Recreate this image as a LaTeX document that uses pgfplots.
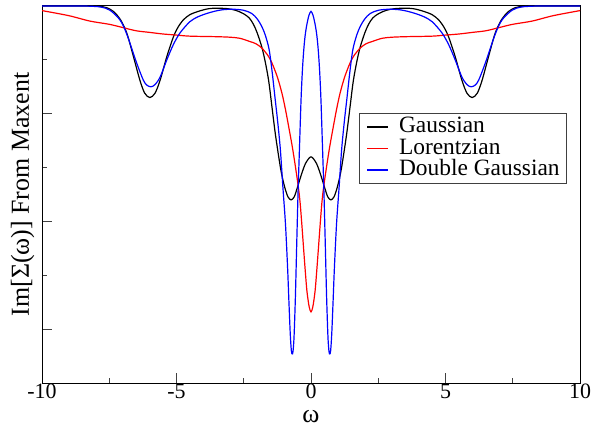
\documentclass[border=0pt]{standalone}
\usepackage{fontspec}
\setmainfont{Liberation Serif}
\usepackage{pgfplots}
\pgfplotsset{compat=1.18}
\begin{document}
\begin{tikzpicture}
\path[use as bounding box] (-42bp,-44bp) rectangle (555bp,383bp);
\begin{axis}[
  scale only axis, width=538bp, height=377bp,
  at={(0,0)}, anchor=south west,
  xmin=-10, xmax=10, ymin=-3.5, ymax=0,
  xtick={-10,-5,0,5,10}, xticklabels={-10,-5,0,5,10},
  minor x tick num=1,
  ytick={-3,-2,-1}, yticklabels={},
  minor ytick={-3.5,-2.5,-1.5,-0.5},
  xtick pos=bottom, ytick pos=left,
  tick align=inside,
  major tick length=10bp, minor tick length=5bp,
  axis line style={line width=1bp},
  every tick/.style={black!75, line width=0.9bp},
  xticklabel style={font=\fontsize{22}{22}\selectfont, inner sep=1bp},
  xlabel={ω},
  xlabel style={at={(axis description cs:0.5,-0.104)}, anchor=base, inner sep=0pt, font=\fontsize{26}{26}\selectfont},
  ylabel={Im[Σ(ω)] From Maxent},
  ylabel style={at={(axis description cs:-0.0245,0.5)}, anchor=base, inner sep=0pt, font=\fontsize{26}{26}\selectfont},
  legend style={at={(rel axis cs:0.589,0.716)}, anchor=north west, draw=black!75, line width=1.2bp,
    inner xsep=7bp, inner ysep=4bp, font=\fontsize{23.5}{23.5}\selectfont,
    nodes={inner sep=0.25bp, text height=15bp, text depth=3bp}, row sep=3bp,
    /tikz/every odd column/.append style={column sep=10bp}},
  legend cell align=left,
  legend image code/.code={\draw[#1, line width=1.3bp] (0bp,0bp) -- (21bp,0bp);},
  every axis plot/.append style={line width=1.2bp, smooth, tension=0.5},
]
\addplot[black] coordinates {
(-10,0) (-8.5,0) (-7.9,-0.003) (-7.6,-0.015) (-7.35,-0.05) (-7.1,-0.12) (-6.85,-0.25) (-6.6,-0.47) (-6.36,-0.69) (-6.18,-0.81) (-5.99,-0.85) (-5.8,-0.81) (-5.61,-0.69) (-5.36,-0.47) (-5.12,-0.29) (-4.95,-0.20) (-4.75,-0.13) (-4.5,-0.08) (-4.13,-0.045) (-3.8,-0.025) (-3.5,-0.02) (-3.1,-0.025) (-2.8,-0.04) (-2.52,-0.07) (-2.3,-0.11) (-2.14,-0.17) (-2.0,-0.25) (-1.83,-0.38) (-1.7,-0.52) (-1.57,-0.70) (-1.45,-0.94) (-1.33,-1.18) (-1.2,-1.40) (-1.1,-1.55) (-0.98,-1.68) (-0.86,-1.77) (-0.74,-1.80) (-0.62,-1.77) (-0.5,-1.68) (-0.35,-1.56) (-0.2,-1.46)
(0,-1.40)
(0.2,-1.46) (0.35,-1.56) (0.5,-1.68) (0.62,-1.77) (0.74,-1.80) (0.86,-1.77) (0.98,-1.68) (1.1,-1.55) (1.2,-1.40) (1.33,-1.18) (1.45,-0.94) (1.57,-0.70) (1.7,-0.52) (1.83,-0.38) (2.0,-0.25) (2.14,-0.17) (2.3,-0.11) (2.52,-0.07) (2.8,-0.04) (3.1,-0.025) (3.5,-0.02) (3.8,-0.025) (4.13,-0.045) (4.5,-0.08) (4.75,-0.13) (4.95,-0.20) (5.12,-0.29) (5.36,-0.47) (5.61,-0.69) (5.8,-0.81) (5.99,-0.85) (6.18,-0.81) (6.36,-0.69) (6.6,-0.47) (6.85,-0.25) (7.1,-0.12) (7.35,-0.05) (7.6,-0.015) (7.9,-0.003) (8.5,0) (10,0)
};
\addlegendentry{Gaussian}
\addplot[red] coordinates {
(-10,-0.043) (-9.95,-0.045) (-9.0,-0.09) (-8.22,-0.14) (-7.5,-0.17) (-7.0,-0.20) (-6.5,-0.23) (-6.0,-0.245) (-5.5,-0.26) (-5.0,-0.27) (-4.5,-0.28) (-3.5,-0.285) (-3.0,-0.29) (-2.64,-0.30) (-2.27,-0.33) (-2.05,-0.35) (-1.83,-0.39) (-1.6,-0.46) (-1.45,-0.53) (-1.25,-0.66) (-1.08,-0.81) (-0.95,-0.96) (-0.83,-1.12) (-0.7,-1.30) (-0.58,-1.49) (-0.46,-1.70) (-0.40,-1.84) (-0.34,-2.03) (-0.27,-2.27) (-0.21,-2.47) (-0.15,-2.65) (-0.07,-2.79)
(0,-2.84)
(0.07,-2.79) (0.15,-2.65) (0.21,-2.47) (0.27,-2.27) (0.34,-2.03) (0.40,-1.84) (0.46,-1.70) (0.58,-1.49) (0.7,-1.30) (0.83,-1.12) (0.95,-0.96) (1.08,-0.81) (1.25,-0.66) (1.45,-0.53) (1.6,-0.46) (1.83,-0.39) (2.05,-0.35) (2.27,-0.33) (2.64,-0.30) (3.0,-0.29) (3.5,-0.285) (4.5,-0.28) (5.0,-0.27) (5.5,-0.26) (6.0,-0.245) (6.5,-0.23) (7.0,-0.20) (7.5,-0.17) (8.22,-0.14) (9.0,-0.09) (9.95,-0.045) (10,-0.043)
};
\addlegendentry{Lorentzian}
\addplot[blue] coordinates {
(-10,0) (-8.6,0) (-8.2,-0.002) (-7.8,-0.01) (-7.47,-0.04) (-7.1,-0.13) (-6.85,-0.26) (-6.48,-0.53) (-6.23,-0.69) (-6.1,-0.735) (-5.95,-0.75) (-5.8,-0.73) (-5.61,-0.66) (-5.36,-0.50) (-5.12,-0.36) (-4.87,-0.25) (-4.5,-0.145) (-4.2,-0.10) (-3.88,-0.07) (-3.6,-0.05) (-3.3,-0.035) (-2.9,-0.03) (-2.5,-0.04) (-2.2,-0.07) (-2.0,-0.12) (-1.83,-0.19) (-1.7,-0.27) (-1.56,-0.40) (-1.45,-0.60) (-1.33,-0.87) (-1.24,-1.07) (-1.14,-1.33) (-1.04,-1.70) (-0.95,-2.02) (-0.87,-2.43) (-0.82,-2.75) (-0.77,-3.05) (-0.73,-3.20) (-0.70,-3.23) (-0.67,-3.21) (-0.63,-3.07) (-0.58,-2.7) (-0.53,-2.2) (-0.48,-1.72) (-0.43,-1.33) (-0.37,-0.87) (-0.32,-0.60) (-0.27,-0.41) (-0.22,-0.28) (-0.16,-0.18) (-0.08,-0.09)
(0,-0.05)
(0.08,-0.09) (0.16,-0.18) (0.22,-0.28) (0.27,-0.41) (0.32,-0.60) (0.37,-0.87) (0.43,-1.33) (0.48,-1.72) (0.53,-2.2) (0.58,-2.7) (0.63,-3.07) (0.67,-3.21) (0.70,-3.23) (0.73,-3.20) (0.77,-3.05) (0.82,-2.75) (0.87,-2.43) (0.95,-2.02) (1.04,-1.70) (1.14,-1.33) (1.24,-1.07) (1.33,-0.87) (1.45,-0.60) (1.56,-0.40) (1.7,-0.27) (1.83,-0.19) (2.0,-0.12) (2.2,-0.07) (2.5,-0.04) (2.9,-0.03) (3.3,-0.035) (3.6,-0.05) (3.88,-0.07) (4.2,-0.10) (4.5,-0.145) (4.87,-0.25) (5.12,-0.36) (5.36,-0.50) (5.61,-0.66) (5.8,-0.73) (5.95,-0.75) (6.1,-0.735) (6.23,-0.69) (6.48,-0.53) (6.85,-0.26) (7.1,-0.13) (7.47,-0.04) (7.8,-0.01) (8.2,-0.002) (8.6,0) (10,0)
};
\addlegendentry{Double Gaussian}
\end{axis}
\end{tikzpicture}
\end{document}
